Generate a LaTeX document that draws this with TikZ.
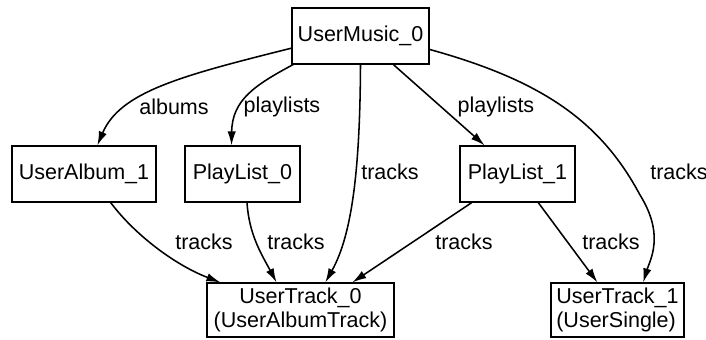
\documentclass[tikz,border=0pt]{standalone}
\usepackage{fontspec}
\setmainfont{Liberation Sans}
\usetikzlibrary{arrows.meta}
\tikzset{
  cls/.style={rectangle,draw,line width=0.8pt,inner sep=1pt,font=\fontsize{15.3}{17}\selectfont},
  rel/.style={line width=1.1pt,-{Latex[length=10pt,width=6pt]}},
  lbl/.style={font=\fontsize{15.3}{17}\selectfont,inner sep=0pt}
}
\begin{document}
\begin{tikzpicture}[x=0.025cm,y=-0.025cm]
          \useasboundingbox (0,0) rectangle (706,340);
          \node[cls,minimum width=137*0.025cm,minimum height=56*0.025cm] (UM) at (360.5,36) {UserMusic\_0};
          \node[cls,minimum width=144*0.025cm,minimum height=56*0.025cm] (UA) at (84,174) {UserAlbum\_1};
          \node[cls,minimum width=115*0.025cm,minimum height=56*0.025cm] (PL0) at (242.5,174) {PlayList\_0};
          \node[cls,minimum width=115*0.025cm,minimum height=56*0.025cm] (PL1) at (517.5,174) {PlayList\_1};
          \node[cls,minimum width=187*0.025cm,minimum height=54*0.025cm,align=center] (UT0) at (300.5,310) {UserTrack\_0\\(UserAlbumTrack)};
          \node[cls,minimum width=133*0.025cm,minimum height=54*0.025cm,align=left] (UT1) at (617.5,310) {UserTrack\_1\\(UserSingle)};
          % edge labels
          \node[lbl] (albums) at (174,107) {albums};
          \node[lbl] (pls0) at (282,107) {playlists};
          \node[lbl] (pls1) at (496,107) {playlists};
          \node[lbl] (trm0) at (390,172) {tracks};
          \node[lbl] (trm1) at (679,172) {tracks};
          \node[lbl] (tra) at (204,242) {tracks};
          \node[lbl] (trp0) at (296,242) {tracks};
          \node[lbl] (trp1a) at (464,242) {tracks};
          \node[lbl] (trp1b) at (611,242) {tracks};
          % edges
          \draw[rel] (UM.190) .. controls (180,76) and (120,92) .. (UA.65);
          \draw[rel] (UM.203) .. controls (255,85) and (232,100) .. (PL0.111);
          \draw[rel] (UM.south) .. controls (360,170) and (352,235) .. (UT0.48);
          \draw[rel] (UM.-41) -- (PL1.139);
          \draw[rel] (UM.-11) .. controls (540,80) and (600,120) .. (640,195) .. controls (665,235) and (650,260) .. (UT1.47);
          \draw[rel] (UA.-47) .. controls (135,235) and (175,265) .. (UT0.161);
          \draw[rel] (PL0.-81) .. controls (249,235) and (262,255) .. (UT0.131);
          \draw[rel] (PL1.212) -- (UT0.28);
          \draw[rel] (PL1.-54) -- (UT1.126);
\end{tikzpicture}
\end{document}
